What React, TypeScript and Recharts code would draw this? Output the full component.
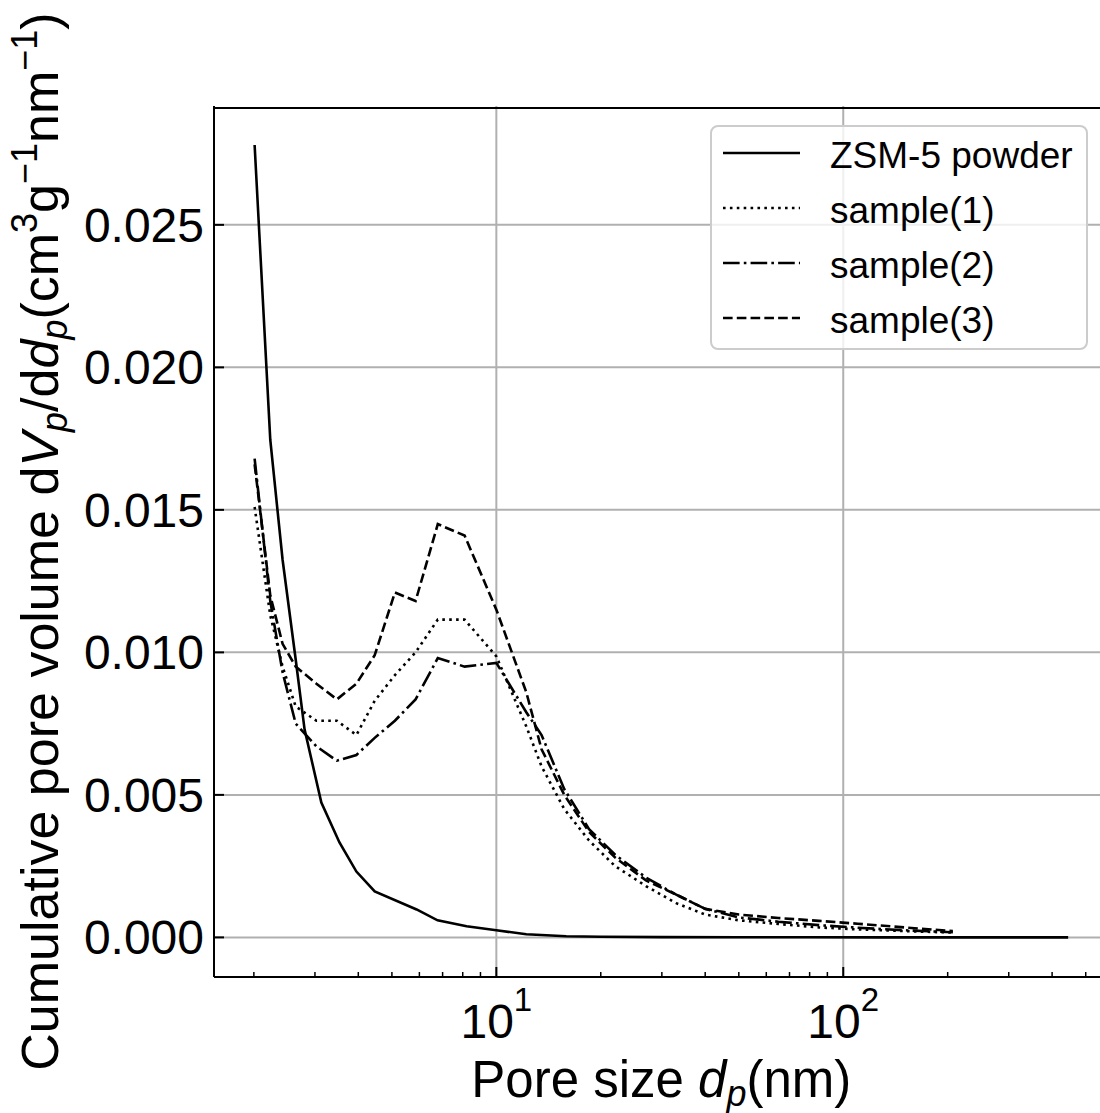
import React from 'react';
import { LineChart, Line, XAxis, YAxis, CartesianGrid, Legend, ReferenceLine } from 'recharts';

const FONT = '"Liberation Sans", Arial, Helvetica, sans-serif';

// ---- data (pore size in nm, dV/dd in cm3 g-1 nm-1) ----
const poreSizePowder = [2.01, 2.23, 2.42, 2.64, 2.8, 3.13, 3.53, 3.95, 4.46, 5.89, 6.77, 8.21, 10, 12.2, 15.9, 20, 30, 50, 80, 130, 200, 300, 445];
const powderValues = [0.0278, 0.01746, 0.01325, 0.00975, 0.0073, 0.00473, 0.00333, 0.00231, 0.00161, 0.00098, 0.0006, 0.00039, 0.00025, 0.00011, 0.00004, 0.00002, 0.00001, 0.000005, 0.000003, 0.000002, 0.000001, 0.0000005, 0];

const poreSizeSample = [2.01, 2.23, 2.42, 2.64, 3.03, 3.47, 3.95, 4.46, 5.1, 5.85, 6.78, 8.1, 10, 12.2, 13.5, 15.7, 18.5, 22, 27, 33, 40, 50, 65, 85, 110, 150, 207];
const sample1Values = [0.0151, 0.0113, 0.0095, 0.0081, 0.0076, 0.0076, 0.0071, 0.0083, 0.0092, 0.01, 0.01115, 0.01115, 0.00986, 0.0074, 0.006, 0.0045, 0.0034, 0.0025, 0.0018, 0.0012, 0.0008, 0.0006, 0.00047, 0.00035, 0.00028, 0.00022, 0.00017];
const sample2Values = [0.0168, 0.0118, 0.0093, 0.0075, 0.0067, 0.0062, 0.0064, 0.007, 0.0076, 0.00835, 0.0098, 0.0095, 0.00963, 0.0079, 0.0071, 0.0052, 0.0038, 0.0029, 0.0021, 0.0015, 0.001, 0.0007, 0.00055, 0.00043, 0.00034, 0.00025, 0.00018];
const sample3Values = [0.0166, 0.012, 0.0103, 0.0095, 0.0089, 0.00835, 0.0089, 0.0099, 0.0121, 0.0118, 0.0145, 0.0141, 0.0115, 0.0086, 0.0066, 0.005, 0.0037, 0.0028, 0.002, 0.0015, 0.001, 0.0008, 0.00068, 0.00058, 0.00048, 0.00035, 0.00022];

const seriesNames = ['ZSM-5 powder', 'sample(1)', 'sample(2)', 'sample(3)'];

const xTicks = [2, 3, 4, 5, 6, 7, 8, 9, 10, 20, 30, 40, 50, 60, 70, 80, 90, 100, 200, 300, 400, 500];
const xGridValues = [10, 100];
const yTicks = [0, 0.005, 0.01, 0.015, 0.02, 0.025];
const xDomain = [1.535, 582];
const yDomain = [-0.00139, 0.02917];
const topSpineValue = 0.0291; // top frame line, just inside the y limit

const LW = 2.6;
const dashes = ['', `${LW} ${LW * 1.65}`, `${LW * 6.4} ${LW * 1.6} ${LW} ${LW * 1.6}`, `${LW * 3.7} ${LW * 1.6}`];

const toPoints = (xs: number[], ys: number[]) => xs.map((x, i) => ({ x, y: ys[i] }));
const seriesData = [
  toPoints(poreSizePowder, powderValues),
  toPoints(poreSizeSample, sample1Values),
  toPoints(poreSizeSample, sample2Values),
  toPoints(poreSizeSample, sample3Values),
];

const TICK_FS = 48;

const XTick = (props: any) => {
  const { x, y, payload } = props;
  const v = payload.value as number;
  const e = Math.log10(v);
  const major = Math.abs(e - Math.round(e)) < 1e-9;
  return (
    <g>
      <line x1={x} x2={x} y1={y} y2={y - (major ? 10 : 5)} stroke="#000" strokeWidth={major ? 2 : 1.5} />
      {major && (
        <text x={x} y={y + 61} textAnchor="middle" fontSize={TICK_FS} fontFamily={FONT} fill="#000">
          <tspan>10</tspan>
          <tspan dy={-27} fontSize={33}>{Math.round(e)}</tspan>
        </text>
      )}
    </g>
  );
};

const YTick = (props: any) => {
  const { x, y, payload } = props;
  return (
    <g>
      <line x1={x} x2={x + 10} y1={y} y2={y} stroke="#000" strokeWidth={2} />
      <text x={x - 10} y={y + 17} textAnchor="end" fontSize={TICK_FS} fontFamily={FONT} fill="#000">
        {(payload.value as number).toFixed(3)}
      </text>
    </g>
  );
};

const XLabel = (props: any) => {
  const vb = props.viewBox;
  const cx = vb.x + vb.width / 2;
  return (
    <text x={cx} y={vb.y + 120} textAnchor="middle" fontSize={51} fontFamily={FONT} fill="#000">
      <tspan>Pore size </tspan>
      <tspan fontStyle="italic">d</tspan>
      <tspan fontStyle="italic" fontSize={36} dy={9}>p</tspan>
      <tspan dy={-9}>(nm)</tspan>
    </text>
  );
};

const YLabel = (props: any) => {
  const vb = props.viewBox;
  const cy = vb.y + vb.height / 2;
  const bx = vb.x + 58;
  const fs = 52;
  const ss = 36;
  return (
    <text transform={`translate(${bx},${cy}) rotate(-90)`} x={0} y={0} textAnchor="middle" fontSize={fs} fontFamily={FONT} fill="#000">
      <tspan>Cumulative pore volume d</tspan>
      <tspan fontStyle="italic">V</tspan>
      <tspan fontStyle="italic" fontSize={ss} dy={9}>p</tspan>
      <tspan dy={-9}>/d</tspan>
      <tspan fontStyle="italic">d</tspan>
      <tspan fontStyle="italic" fontSize={ss} dy={9}>p</tspan>
      <tspan dy={-9}>(cm</tspan>
      <tspan fontSize={ss} dy={-21}>3</tspan>
      <tspan dy={21}>g</tspan>
      <tspan fontSize={ss} dy={-21}>−1</tspan>
      <tspan dy={21}>nm</tspan>
      <tspan fontSize={ss} dy={-21}>−1</tspan>
      <tspan dy={21}>)</tspan>
    </text>
  );
};

const LegendBox = () => (
  <div
    style={{
      width: 378,
      height: 225,
      boxSizing: 'border-box',
      background: 'rgba(255,255,255,0.8)',
      border: '2px solid #cccccc',
      borderRadius: 8,
      position: 'relative',
      fontFamily: FONT,
    }}
  >
    {seriesNames.map((name, i) => (
      <div
        key={name}
        style={{ position: 'absolute', left: 0, top: 26 + 55 * i - 27.5, height: 55, display: 'flex', alignItems: 'center' }}
      >
        <svg width={77} height={10} style={{ marginLeft: 11, display: 'block' }}>
          <line x1={0} x2={77} y1={5} y2={5} stroke="#000" strokeWidth={LW} strokeDasharray={dashes[i] || undefined} />
        </svg>
        <span style={{ marginLeft: 30, fontSize: 37, color: '#000', marginTop: 5, whiteSpace: 'nowrap' }}>{name}</span>
      </div>
    ))}
  </div>
);

export default function App() {
  return (
    <div style={{ position: 'absolute', left: 0, top: 0, width: 1100, height: 1113, overflow: 'hidden', background: '#fff' }}>
      <LineChart width={1120} height={1113} margin={{ top: 106, right: 11.4, bottom: 0, left: 0 }}>
        <CartesianGrid
          horizontalValues={yTicks}
          verticalValues={xGridValues}
          stroke="#b0b0b0"
          strokeWidth={2}
          strokeDasharray=""
        />
        <XAxis
          dataKey="x"
          type="number"
          scale="log"
          domain={xDomain}
          allowDataOverflow
          ticks={xTicks}
          interval={0}
          height={136}
          tickSize={0}
          tickMargin={0}
          tickLine={false}
          axisLine={{ stroke: '#000', strokeWidth: 2 }}
          tick={<XTick />}
          label={{ content: <XLabel /> }}
        />
        <YAxis
          type="number"
          domain={yDomain}
          allowDataOverflow
          ticks={yTicks}
          interval={0}
          width={214}
          tickSize={0}
          tickMargin={0}
          tickLine={false}
          axisLine={{ stroke: '#000', strokeWidth: 2 }}
          tick={<YTick />}
          label={{ content: <YLabel /> }}
        />
        <ReferenceLine y={topSpineValue} stroke="#000" strokeWidth={2} ifOverflow="visible" />
        {seriesNames.map((name, i) => (
          <Line
            key={name}
            data={seriesData[i]}
            dataKey="y"
            name={name}
            type="linear"
            stroke="#000"
            strokeWidth={LW}
            strokeDasharray={dashes[i] || undefined}
            dot={false}
            activeDot={false}
            isAnimationActive={false}
          />
        ))}
        <Legend
          layout="vertical"
          align="center"
          verticalAlign="middle"
          wrapperStyle={{ left: 710, top: 125, width: 378, height: 225 }}
          content={<LegendBox />}
        />
      </LineChart>
    </div>
  );
}
